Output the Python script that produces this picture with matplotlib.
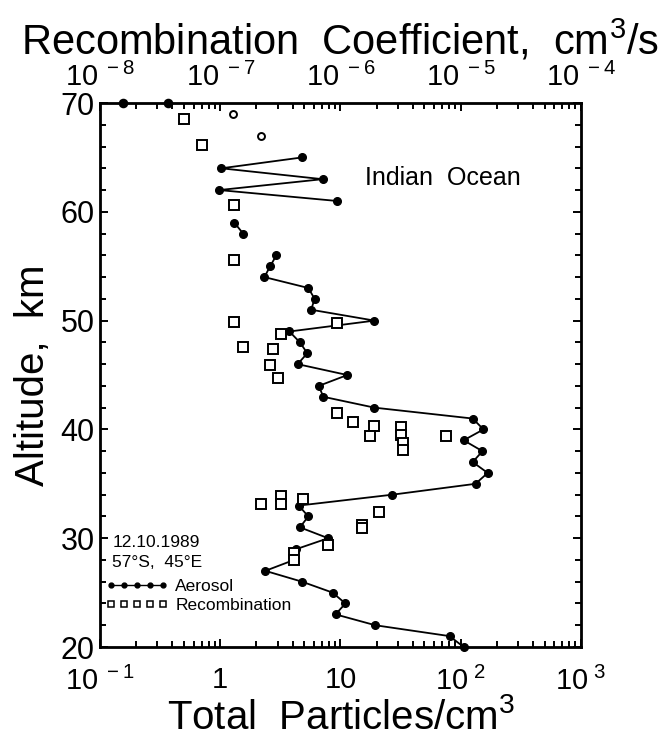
import numpy as np
import matplotlib
matplotlib.use("Agg")
import matplotlib.pyplot as plt
from matplotlib.lines import Line2D
from matplotlib.ticker import MultipleLocator, NullFormatter

plt.rcParams['font.family'] = ['Liberation Sans', 'DejaVu Sans']
plt.rcParams['mathtext.fontset'] = 'custom'
plt.rcParams['mathtext.rm'] = 'Liberation Sans'
plt.rcParams['mathtext.it'] = 'Liberation Sans:italic'
plt.rcParams['mathtext.bf'] = 'Liberation Sans:bold'

# aerosol profile, total particles / cm3 (segments joined by a line)
aer_alt = [65, 64, 63, 62, 61,
           59, 58,
           56, 55, 54, 53, 52, 51, 50, 49, 48, 47, 46, 45, 44, 43, 42, 41,
           40, 39, 38, 37, 36, 35, 34, 33, 32, 31, 30, 29, 28, 27, 26, 25,
           24, 23, 22, 21, 20]
aer_n = [4.8, 1.02, 7.1, 0.98, 9.3,
         1.31, 1.55,
         2.93, 2.6, 2.33, 5.4, 6.1, 5.7, 19.2, 3.76, 4.6, 5.3, 4.4, 11.4, 6.6, 7.2, 19.2, 126,
         155, 106, 152, 126, 168, 133, 27, 4.5, 5.4, 4.6, 7.9, 4.3, 4.1, 2.37, 4.8, 8.6,
         11, 9.1, 19.5, 81, 106]
aer_seg = [0] * 5 + [1] * 2 + [2] * 37

# loose aerosol points near the top
top_alt = [70, 70, 69, 67]
top_n = [0.155, 0.37, 1.28, 2.2]
top_filled = [True, True, False, False]

# recombination coefficient, cm3/s
rec_alt = [68.5, 66.1, 60.6, 55.6, 49.9, 49.8, 48.8, 47.6, 47.4, 45.9, 44.7,
           41.5, 40.7, 40.3, 39.4, 40.2, 39.5, 38.75, 38.1, 39.4,
           33.9, 33.1, 33.1, 33.6, 32.4, 31.2, 30.9, 29.4, 28.6, 28.0]
rec_k = [5.0e-8, 7.1e-8, 1.3e-7, 1.3e-7, 1.3e-7, 9.4e-7, 3.2e-7, 1.55e-7, 2.75e-7, 2.6e-7, 3.0e-7,
         9.3e-7, 1.26e-6, 1.9e-6, 1.75e-6, 3.2e-6, 3.2e-6, 3.3e-6, 3.3e-6, 7.5e-6,
         3.2e-7, 3.2e-7, 2.2e-7, 4.9e-7, 2.1e-6, 1.5e-6, 1.5e-6, 7.9e-7, 4.1e-7, 4.1e-7]

bottom_ticks = [1e-1, 1, 10, 1e2, 1e3]
bottom_labels = [r'$10^{\ -1}$', '1', '10', r'$10^{\ 2}$', r'$10^{\ 3}$']
top_ticks = [1e-8, 1e-7, 1e-6, 1e-5, 1e-4]
top_labels = [r'$10^{\ -8}$', r'$10^{\ -7}$', r'$10^{\ -6}$', r'$10^{\ -5}$', r'$10^{\ -4}$']
alt_ticks = [20, 30, 40, 50, 60, 70]


def main():
    fig = plt.figure(figsize=(6.63, 7.38), dpi=100)
    ax = fig.add_axes([0.151, 0.1233, 0.725, 0.7371])

    alt = np.array(aer_alt)
    n = np.array(aer_n)
    seg = np.array(aer_seg)
    for s in np.unique(seg):
        m = seg == s
        ax.plot(n[m], alt[m], color='black', lw=1.3, marker='o', ms=5.5,
                mfc='black', mec='black', clip_on=False, zorder=3)
    for a, v, f in zip(top_alt, top_n, top_filled):
        ax.plot(v, a, marker='o', ms=5.5 if f else 5, mfc='black' if f else 'white',
                mec='black', mew=1.4, clip_on=False, zorder=3)

    ax.set_xscale('log')
    ax.set_xlim(1e-1, 1e3)
    ax.set_ylim(20, 70)
    ax.set_xticks(bottom_ticks, bottom_labels)
    ax.xaxis.set_minor_formatter(NullFormatter())
    ax.set_yticks(alt_ticks)
    ax.yaxis.set_minor_locator(MultipleLocator(2))
    ax.tick_params(which='both', direction='in', bottom=True, left=True, right=True,
                   top=False, width=1.4, labelsize=21)
    ax.tick_params(axis='y', labelsize=22)
    ax.tick_params(which='major', length=6)
    ax.tick_params(which='minor', length=4)
    ax.tick_params(axis='x', pad=14)
    ax.tick_params(axis='y', pad=4)
    for sp in ax.spines.values():
        sp.set_linewidth(2)

    ax.set_xlabel(r'Total  Particles/cm$^{3}$', fontsize=29, labelpad=2)
    ax.set_ylabel('Altitude,  km', fontsize=29, labelpad=6)

    # recombination on the top axis
    ax2 = ax.twiny()
    ax2.plot(rec_k, rec_alt, ls='none', marker='s', ms=7, mfc='white', mec='black',
             mew=1.4, zorder=3)
    ax2.set_xscale('log')
    ax2.set_xlim(1e-8, 1e-4)
    ax2.set_xticks(top_ticks, top_labels)
    ax2.xaxis.set_minor_formatter(NullFormatter())
    ax2.tick_params(which='both', direction='in', top=True, width=1.4, labelsize=21, pad=8)
    ax2.tick_params(which='major', length=6)
    ax2.tick_params(which='minor', length=4)
    ax2.set_xlabel(r'Recombination  Coefficient,  cm$^{3}$/s', fontsize=30, labelpad=6)

    ax.text(0.551, 0.862, 'Indian  Ocean', transform=ax.transAxes, fontsize=18,
            ha='left', va='center')
    ax.text(0.025, 0.193, '12.10.1989', transform=ax.transAxes, fontsize=12.5,
            ha='left', va='center')
    ax.text(0.025, 0.156, '57°S,  45°E', transform=ax.transAxes, fontsize=12.5,
            ha='left', va='center')

    handles = [Line2D([], [], color='black', lw=1, marker='o', ms=3.5),
               Line2D([], [], ls='none', marker='s', ms=4.5, mfc='white',
                      mec='black', mew=1.1)]
    ax.legend(handles, ['Aerosol', 'Recombination'], loc='lower left',
              bbox_to_anchor=(0.012, 0.062), frameon=False, numpoints=5,
              handlelength=3.6, handletextpad=0.4, labelspacing=0.25,
              fontsize=12.5, borderaxespad=0, borderpad=0)

    fig.savefig('out.png', dpi=100)


if __name__ == "__main__":
    main()
